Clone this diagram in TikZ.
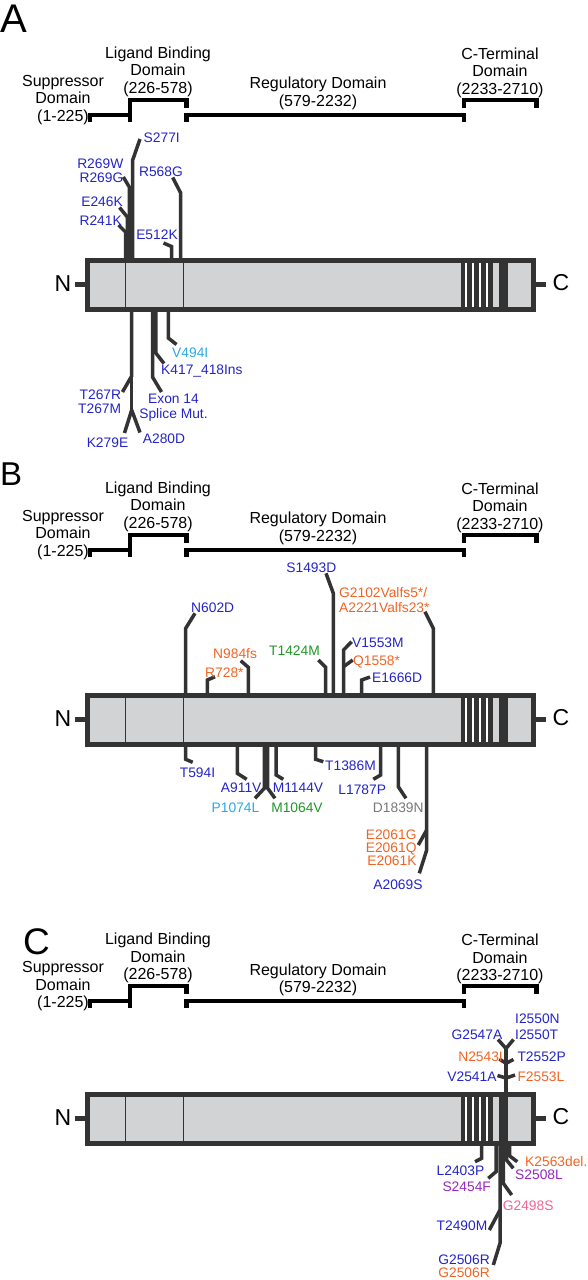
\documentclass[tikz,border=0pt]{standalone}
\usepackage{fontspec}
\setmainfont{Liberation Sans}
\definecolor{mblue}{RGB}{36,36,200}
\definecolor{morange}{RGB}{240,100,35}
\definecolor{mgreen}{RGB}{30,150,40}
\definecolor{mcyan}{RGB}{40,170,225}
\definecolor{mgray}{RGB}{120,120,120}
\definecolor{mpurple}{RGB}{150,40,190}
\definecolor{mpink}{RGB}{240,100,150}
\definecolor{lnc}{RGB}{51,51,51}
\definecolor{barfill}{RGB}{209,211,212}
\tikzset{
  mutln/.style={draw=lnc, line width=3.5pt},
  brk/.style={draw=black, line width=4.6pt},
  dom/.style={font=\fontsize{16}{17.5}\selectfont, align=center, inner sep=0pt},
  lab/.style={font=\fontsize{13.8}{14}\selectfont, inner sep=0pt, text=mblue},
  term/.style={font=\fontsize{23}{23}\selectfont, inner sep=0pt},
  plet/.style={inner sep=0pt},
  barbox/.style={draw=lnc, line width=5pt},
  tab/.style={draw=lnc, line width=5pt},
  inner/.style={draw=lnc, line width=0.9pt},
  stripe/.style={fill=lnc},
  wline/.style={draw=white, line width=1.8pt}
}
\newcommand\mut[6]{\coordinate (#1s) at (#2,#3);\coordinate (#1k) at (#2,#4);\coordinate (#1e) at (#5,#6);\draw[mutln] (#1s) -- (#1k) -- (#1e);}
\newcommand\branch[4]{\coordinate (#1e) at (#3,#4);\draw[mutln] (#2) -- (#1e);}
\newcommand\domains[2]{%
\begin{scope}[yshift=-#2pt]
  \draw[brk] (90,122) -- (90,115) -- (130,115) -- (130,122);
  \draw[brk] (130,122) -- (130,100) -- (186.5,100) -- (186.5,108);
  \draw[brk] (186.5,122) -- (186.5,115) -- (464,115) -- (464,122);
  \draw[brk] (464,108) -- (464,100) -- (536.5,100) -- (536.5,108);
  \node[dom, anchor=south] (sup#1) at (63,125) {Suppressor\\Domain\\(1-225)};
  \node[dom, anchor=south] (lig#1) at (158,97) {Ligand Binding\\Domain\\(226-578)};
  \node[dom, anchor=south] (reg#1) at (318,110) {Regulatory Domain\\(579-2232)};
  \node[dom, anchor=south] (cte#1) at (500,98) {C-Terminal\\Domain\\(2233-2710)};
\end{scope}}
\newcommand\protbar[2]{%
\begin{scope}[yshift=-#2pt]
  \fill[barfill] (87.5,260.5) rectangle (533.5,309.5);
  \draw[inner] (125,263) -- (125,307);
  \draw[inner] (183,263) -- (183,307);
  \fill[stripe] (461,263) rectangle (493.3,307);
  \foreach \sx in {465.7,472.7,480,486.7} {\draw[wline] (\sx,263) -- (\sx,307);}
  \fill[stripe] (499.3,263) rectangle (508.3,307);
  \draw[barbox] (87.5,260.5) rectangle (533.5,309.5);
  \draw[tab] (75,284) -- (87.5,284);
  \draw[tab] (533.5,284) -- (546,284);
  \node[term, anchor=base] (n#1) at (63,291) {N};
  \node[term, anchor=base] (c#1) at (561,290.5) {C};
\end{scope}}
\begin{document}
\begin{tikzpicture}[x=1pt,y=-1pt]
\useasboundingbox (0,0) rectangle (587,1280);
% panel letters
\node[plet, font=\fontsize{40}{40}\selectfont, anchor=base west] (pA) at (0,32) {A};
\node[plet, font=\fontsize{33}{33}\selectfont, anchor=base west] (pB) at (0,485) {B};
\node[plet, font=\fontsize{37}{37}\selectfont, anchor=base west] (pC) at (23,954) {C};
\domains{A}{0}
\domains{B}{435}
\domains{C}{886}
% ================= Panel A mutations =================
\mut{s277}{132.7}{259}{160}{140}{139}
\mut{r269}{129.3}{259}{187}{123.3}{177}
\mut{e246}{127.3}{259}{217}{119.5}{207.5}
\mut{r241}{125.5}{259}{232}{118.5}{225}
\mut{r568}{180.7}{259}{193}{172.7}{177.5}
\mut{e512}{171.5}{259}{246.5}{163.5}{243}
\node[lab, anchor=base west] (S277I) at (143.5,142) {S277I};
\node[lab, anchor=north east, align=right] (R269) at (123.5,158.3) {R269W\\R269G};
\node[lab, anchor=base east] (E246K) at (123,206) {E246K};
\node[lab, anchor=base east] (R241K) at (122,225.5) {R241K};
\node[lab, anchor=base east] (R568G) at (183,176.7) {R568G};
\node[lab, anchor=base] (E512K) at (157,239) {E512K};
% below
\mut{t267}{131.7}{311}{376}{122.5}{392}
\coordinate (splitA) at (131.7,410);
\draw[mutln] (t267k) -- (splitA);
\branch{k279}{splitA}{124.5}{433}
\branch{a280}{splitA}{140}{432.5}
\mut{exon}{152.5}{311}{377}{161.5}{392}
\mut{k417}{155.8}{311}{353}{164}{363.5}
\mut{v494}{168.3}{311}{338}{176.5}{344.5}
\node[lab, anchor=north east, align=right] (T267) at (121.3,390) {T267R\\T267M};
\node[lab, anchor=base] (K279E) at (107.5,447) {K279E};
\node[lab, anchor=base] (A280D) at (164,443.5) {A280D};
\node[lab, anchor=north, align=center, font=\fontsize{13.8}{15.5}\selectfont] (EXON) at (173.5,393.3) {Exon 14\\Splice Mut.};
\node[lab, anchor=base west] (K417) at (161,374.5) {K417\_418Ins};
\node[lab, anchor=base west, text=mcyan] (V494I) at (172,357) {V494I};
\protbar{A}{0}
% ================= Panel B mutations =================
\mut{n602}{185.7}{694}{628.3}{195}{613.3}
\mut{r728}{207.3}{694}{680}{215}{676.7}
\mut{n984}{248.3}{694}{667.3}{240.7}{660.7}
\mut{t1424}{325.7}{694}{667.3}{318.3}{660}
\mut{s1493}{333.3}{694}{593.3}{326}{573.3}
\mut{v1553}{343.5}{694}{650}{351.7}{641.7}
\coordinate (q1558k) at (343.5,666.7);
\branch{q1558}{q1558k}{352.7}{660}
\mut{e1666}{361.7}{694}{680}{370}{677}
\mut{g2102}{433.3}{694}{628.3}{425}{611.7}
\node[lab, anchor=base west] (N602D) at (191,612) {N602D};
\node[lab, anchor=base west, text=morange] (R728) at (205,677) {R728*};
\node[lab, anchor=base west, text=morange] (N984fs) at (213,658) {N984fs};
\node[lab, anchor=base east, text=mgreen] (T1424M) at (320,655.5) {T1424M};
\node[lab, anchor=base east] (S1493D) at (336.5,572) {S1493D};
\node[lab, anchor=base west] (V1553M) at (352,647) {V1553M};
\node[lab, anchor=base west, text=morange] (Q1558) at (353,665) {Q1558*};
\node[lab, anchor=base west] (E1666D) at (372,682) {E1666D};
\node[lab, anchor=north west, align=left, text=morange, font=\fontsize{13.8}{15}\selectfont] (G2102) at (339,587) {G2102Valfs5*/\\A2221Valfs23*};
% below
\mut{t594}{185.7}{746}{759.3}{192.7}{762.3}
\mut{a911}{237.3}{746}{773.3}{246.7}{779.3}
\mut{p1074}{264.3}{746}{788.3}{255}{798.3}
\mut{m1064}{267.7}{746}{788.3}{275}{798.3}
\mut{m1144}{276.2}{746}{775}{283.3}{779.3}
\mut{t1386}{315.7}{746}{759.3}{323.3}{761.7}
\mut{l1787}{380.7}{746}{775}{373.3}{779.3}
\mut{d1839}{398.3}{746}{786.7}{406}{798.3}
\mut{a2069}{426.7}{746}{850}{419.3}{873.3}
\coordinate (e2061k) at (426.7,830);
\branch{e2061}{e2061k}{418.3}{845}
\node[lab, anchor=base] (T594I) at (197.5,777) {T594I};
\node[lab, anchor=base] (A911V) at (241.2,792.7) {A911V};
\node[lab, anchor=base, text=mcyan] (P1074L) at (235.5,812.7) {P1074L};
\node[lab, anchor=base, text=mgreen] (M1064V) at (297,812.7) {M1064V};
\node[lab, anchor=base] (M1144V) at (298,792.7) {M1144V};
\node[lab, anchor=base west] (T1386M) at (325,770) {T1386M};
\node[lab, anchor=base] (L1787P) at (362.2,794) {L1787P};
\node[lab, anchor=base, text=mgray] (D1839N) at (398.3,812.7) {D1839N};
\node[lab, anchor=north east, align=right, text=morange, font=\fontsize{13.8}{13}\selectfont] (E2061) at (416.7,829.3) {E2061G\\E2061Q\\E2061K};
\node[lab, anchor=base] (A2069S) at (398,889) {A2069S};
\protbar{B}{435}
% ================= Panel C mutations =================
\coordinate (cms) at (506,1094);
\coordinate (cmk) at (506,1048.5);
\draw[mutln] (cms) -- (cmk);
\branch{g2547}{cmk}{498}{1039.5}
\branch{i2550}{cmk}{513.5}{1039.5}
\coordinate (cb1) at (506,1063.3);
\branch{n2543}{cb1}{499.3}{1059}
\branch{t2552}{cb1}{513.5}{1059.5}
\coordinate (cb2) at (506,1078);
\branch{v2541}{cb2}{497.5}{1075.5}
\branch{f2553}{cb2}{515}{1075}
\node[lab, anchor=base east] (G2547A) at (502.5,1039.5) {G2547A};
\node[lab, anchor=north west, align=left, font=\fontsize{13.8}{15.7}\selectfont] (I2550) at (515,1014) {I2550N\\I2550T};
\node[lab, anchor=base east, text=morange] (N2543I) at (503,1061.5) {N2543I};
\node[lab, anchor=base west] (T2552P) at (517.3,1061.7) {T2552P};
\node[lab, anchor=base east] (V2541A) at (496.7,1081.7) {V2541A};
\node[lab, anchor=base west, text=morange] (F2553L) at (517.3,1081.7) {F2553L};
% below
\mut{l2403}{481.7}{1144}{1158.3}{475}{1161.7}
\mut{s2454}{496}{1144}{1171.7}{488.3}{1178.3}
\mut{g2506}{500}{1144}{1243.3}{493.3}{1265}
\coordinate (t2490k) at (500,1210);
\branch{t2490}{t2490k}{489.3}{1230}
\mut{g2498}{503.3}{1144}{1183.3}{511.7}{1195}
\mut{s2508}{506.5}{1144}{1160}{513.3}{1168.3}
\mut{k2563}{509.7}{1144}{1156}{517.3}{1161.7}
\node[lab, anchor=base] (L2403P) at (460.5,1175) {L2403P};
\node[lab, anchor=base, text=mpurple] (S2454F) at (466.7,1191.7) {S2454F};
\node[lab, anchor=base east] (T2490M) at (487.5,1230.7) {T2490M};
\node[lab, anchor=north east, align=right, font=\fontsize{13.8}{13}\selectfont] (G2506R) at (490,1255) {G2506R\\\textcolor{morange}{G2506R}};
\node[lab, anchor=base west, text=mpink] (G2498S) at (502.7,1210) {G2498S};
\node[lab, anchor=base west, text=mpurple] (S2508L) at (515,1179.3) {S2508L};
\node[lab, anchor=base west, text=morange] (K2563) at (525,1166.7) {K2563del.};
\protbar{C}{834}
\end{tikzpicture}
\end{document}
